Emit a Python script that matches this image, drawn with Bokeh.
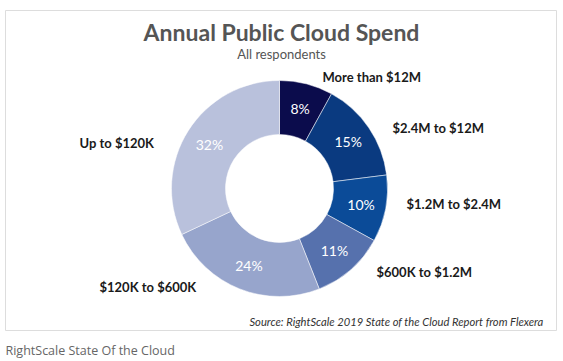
import math
from bokeh.plotting import figure
from bokeh.models import ColumnDataSource, Range1d
from bokeh.core.properties import value
from bokeh.embed import file_html
from bokeh.resources import INLINE

# ---- data ----
categories = ["More than $12M", "$2.4M to $12M", "$1.2M to $2.4M",
              "$600K to $1.2M", "$120K to $600K", "Up to $120K"]
shares = [8, 15, 10, 11, 24, 32]
colors = ["#0b0c4c", "#0a3a80", "#0b4b98", "#5671ad", "#97a5cc", "#b9c1dc"]

W, H = 563, 361
PAGE_OFF = 0

def fx(px):
    return px - PAGE_OFF

def fy(py):
    return H - (py - PAGE_OFF)

p = figure(width=W, height=H, output_backend="svg", toolbar_location=None,
           x_range=Range1d(0, W), y_range=Range1d(0, H), min_border=0,
           background_fill_color="white", border_fill_color="white",
           outline_line_color=None)
p.axis.visible = False
p.grid.visible = False

FONT = "Lato"

# chart box (page coords 5..556 x 10..330)
p.rect(x=[fx(280.5)], y=[fy(170)], width=[551], height=[320],
       fill_color="white", line_color="#dddddd", line_width=1)

# donut
cx, cy = fx(279), fy(188)
total = sum(shares)
starts, ends, mids = [], [], []
acc = 0
for s in shares:
    a0 = math.pi / 2 - 2 * math.pi * acc / total
    acc += s
    a1 = math.pi / 2 - 2 * math.pi * acc / total
    starts.append(a0)
    ends.append(a1)
    mids.append((a0 + a1) / 2)

src = ColumnDataSource(dict(start=starts, end=ends, color=colors,
                            x=[cx] * len(shares), y=[cy] * len(shares)))
p.annular_wedge(x="x", y="y", inner_radius=54, outer_radius=108,
                start_angle="start", end_angle="end", direction="clock",
                fill_color="color", line_color="white", line_width=0.5,
                source=src)

# percent labels
r_lab = 83
p.text(x=[cx + r_lab * math.cos(m) for m in mids],
       y=[cy + r_lab * math.sin(m) for m in mids],
       text=[f"{s}%" for s in shares],
       text_color="white", text_font=value(FONT), text_font_size="14px",
       text_align="center", text_baseline="middle")

# category labels (left x, center y in page coords)
lab_px = [322, 392, 406, 376, 99, 79]
lab_py = [76, 127, 203, 271, 286, 142]
p.text(x=[fx(v) for v in lab_px], y=[fy(v) for v in lab_py], text=categories,
       text_color="#1a1a1a", text_font=value(FONT), text_font_size="13px",
       text_font_style="bold", text_align="left", text_baseline="middle")

# title & subtitle
p.text(x=[fx(281)], y=[fy(31)], text=["Annual Public Cloud Spend"],
       text_color="#555555", text_font=value(FONT), text_font_size="23px",
       text_font_style="bold", text_align="center", text_baseline="middle")
p.text(x=[fx(281)], y=[fy(53)], text=["All respondents"],
       text_color="#555555", text_font=value(FONT), text_font_size="13px",
       text_align="center", text_baseline="middle")

# source
p.text(x=[fx(543)], y=[fy(321)],
       text=["Source: RightScale 2019 State of the Cloud Report from Flexera"],
       text_color="#333333", text_font=value(FONT), text_font_size="11.2px",
       text_font_style="italic", text_align="right", text_baseline="middle")

# caption
p.text(x=[fx(5)], y=[fy(350)], text=["RightScale State Of the Cloud"],
       text_color="#666666", text_font=value("Open Sans"), text_font_size="12.5px",
       text_align="left", text_baseline="middle")

open("out.html", "w").write(file_html(p, INLINE))
